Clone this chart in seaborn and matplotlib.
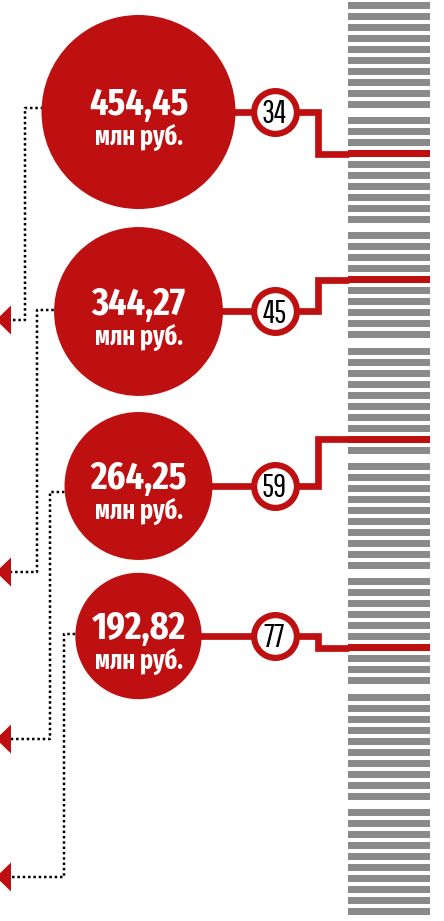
import matplotlib
matplotlib.use("Agg")
import matplotlib.pyplot as plt
import pandas as pd
import seaborn as sns

# chart data
amounts = [454.45, 344.27, 264.25, 192.82]
amount_labels = ['454,45', '344,27', '264,25', '192,82']
unit_label = 'млн руб.'
ranks = [34, 45, 59, 77]
scale_ranks = list(range(21, 101))

# layout, in pixels of the 444x921 picture
RED = '#BE1010'
GRAY = '#8A8A8A'
cx = 138.5
cy = [112, 311.5, 486, 636]
small_x = 274.5
elbow_x = 317.5
bar_left, bar_right = 348, 430
dot_x = [25, 37, 50, 64]
dot_y = [108, 310, 492, 634]
arrow_y = [320, 572, 739, 877]
r_max = 97
PT = 0.72  # points per pixel at dpi 100


def stripe_y(rank):
    i = rank - scale_ranks[0]
    return 2 + (i // 10) * 115.3 + (i % 10) * 11 + 3.35


sns.set_style('white')
plt.rcParams['font.family'] = ['Fira Sans Extra Condensed', 'Roboto Condensed', 'DejaVu Sans']
badge_font = ['Pathway Gothic One', 'Fira Sans Extra Condensed', 'DejaVu Sans']

fig = plt.figure(figsize=(4.44, 9.21), dpi=100)
ax = fig.add_axes([0, 0, 1, 1])
ax.set_xlim(0, 444)
ax.set_ylim(921, 0)
ax.axis('off')

# rank scale on the right
ax.barh([stripe_y(r) for r in scale_ranks], bar_right - bar_left, left=bar_left,
        height=7, color=[RED if r in ranks else GRAY for r in scale_ranks],
        linewidth=0, zorder=1)

# red connectors: big circle -> badge -> rank stripe
for y, r in zip(cy, ranks):
    sy = stripe_y(r)
    ax.plot([cx, elbow_x, elbow_x, bar_left + 1], [y, y, sy, sy], color=RED,
            lw=6.7 * PT, solid_joinstyle='miter', solid_capstyle='butt', zorder=2)

# dotted leaders to the arrows on the left
for dx, dy, ay in zip(dot_x, dot_y, arrow_y):
    ax.plot([cx, dx, dx, 11], [dy, dy, ay, ay], color='black', lw=2.5 * PT,
            linestyle=(0, (1, 1.13)), dash_capstyle='butt', zorder=2)
    ax.fill([-4, 11, 11], [ay, ay - 14.5, ay + 14.5], color=RED, lw=0, zorder=3)

# big circles, area proportional to amount
df = pd.DataFrame({'x': [cx] * len(amounts), 'y': cy, 'amount': amounts})
s_max = (2 * r_max * PT) ** 2
sns.scatterplot(data=df, x='x', y='y', size='amount', sizes=(0, s_max),
                size_norm=(0, max(amounts)), color=RED, linewidth=0,
                legend=False, ax=ax, zorder=4)

# rank badges
sns.scatterplot(x=[small_x] * len(ranks), y=cy, s=(42.8 * PT) ** 2, color='white',
                edgecolor=RED, linewidth=6.2 * PT, legend=False, ax=ax, zorder=4)

for y, lab, r in zip(cy, amount_labels, ranks):
    ax.text(cx, y + 3, lab, ha='center', va='baseline', color='white',
            fontsize=28, fontweight='bold', zorder=5)
    ax.text(cx, y + 33, unit_label, ha='center', va='baseline', color='white',
            fontsize=19, fontweight='bold', zorder=5)
    ax.text(small_x, y + 11, str(r), ha='center', va='baseline', color='black',
            fontsize=23, family=badge_font, zorder=5)

fig.savefig('out.png', dpi=100)
